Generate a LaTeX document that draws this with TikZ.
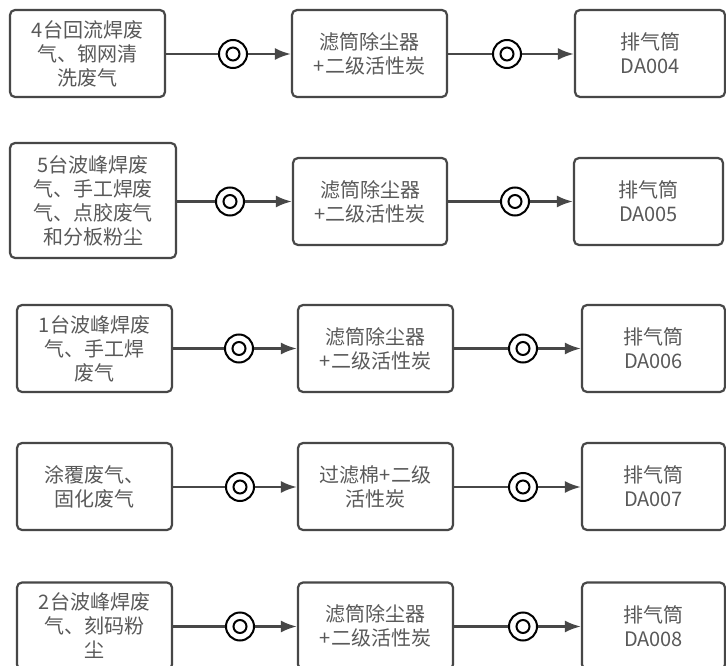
\documentclass[tikz,border=0pt]{standalone}
\usepackage{fontspec}
\setmainfont{Noto Sans CJK SC}
\usetikzlibrary{arrows.meta}
\definecolor{boxline}{HTML}{474747}
\definecolor{boxtext}{HTML}{595959}

\begin{document}
\begin{tikzpicture}[x=1pt,y=-1pt,
    box/.style={draw=boxline,line width=2.2pt,rounded corners=5pt,fill=white,
        align=center,text=boxtext,inner sep=0pt,
        font=\fontsize{20}{24}\selectfont},
    valve/.style={circle,draw=black,line width=2pt,fill=white,minimum size=28pt,
        inner sep=0pt,path picture={\draw[line width=2pt]
        (path picture bounding box.center) circle[radius=6.5pt];}},
    pipe/.style={draw=boxline,line width=2.4pt},
    flow/.style={pipe,-{Latex[length=16pt,width=12pt]}}]
\useasboundingbox (0,0) rectangle (726,666);
\fill[white] (0,0) rectangle (726,666);

% row 1
\node[box,minimum width=155pt,minimum height=87pt] (src1) at (87.5,53.5) {4台回流焊废\\气、钢网清\\洗废气};
\node[box,minimum width=155pt,minimum height=87pt] (trt1) at (369.5,53.5) {滤筒除尘器\\+二级活性炭};
\node[box,minimum width=150pt,minimum height=87pt] (out1) at (650,53.5) {排气筒\\DA004};
\node[valve] (va1) at (233,54) {};
\node[valve] (vb1) at (507,54) {};

% row 2
\node[box,minimum width=166pt,minimum height=115pt] (src2) at (93,200.5) {5台波峰焊废\\气、手工焊废\\气、点胶废气\\和分板粉尘};
\node[box,minimum width=154pt,minimum height=87pt] (trt2) at (370,201.5) {滤筒除尘器\\+二级活性炭};
\node[box,minimum width=149pt,minimum height=87pt] (out2) at (648.5,201.5) {排气筒\\DA005};
\node[valve] (va2) at (230,201.5) {};
\node[valve] (vb2) at (515,201.5) {};

% row 3
\node[box,minimum width=155pt,minimum height=87pt] (src3) at (94.5,348.5) {1台波峰焊废\\气、手工焊\\废气};
\node[box,minimum width=155pt,minimum height=87pt] (trt3) at (375.5,348.5) {滤筒除尘器\\+二级活性炭};
\node[box,minimum width=143pt,minimum height=87pt] (out3) at (653.5,348.5) {排气筒\\DA006};
\node[valve] (va3) at (239,348.5) {};
\node[valve] (vb3) at (523,348.5) {};

% row 4
\node[box,minimum width=155pt,minimum height=87pt] (src4) at (94.5,486.5) {涂覆废气、\\固化废气};
\node[box,minimum width=155pt,minimum height=87pt] (trt4) at (375.5,486.5) {过滤棉+二级\\活性炭};
\node[box,minimum width=143pt,minimum height=87pt] (out4) at (653.5,486.5) {排气筒\\DA007};
\node[valve] (va4) at (240,487) {};
\node[valve] (vb4) at (523,487) {};

% row 5
\node[box,minimum width=155pt,minimum height=87pt] (src5) at (94.5,626) {2台波峰焊废\\气、刻码粉\\尘};
\node[box,minimum width=155pt,minimum height=87pt] (trt5) at (375.5,626) {滤筒除尘器\\+二级活性炭};
\node[box,minimum width=143pt,minimum height=87pt] (out5) at (653.5,626) {排气筒\\DA008};
\node[valve] (va5) at (240,626.5) {};
\node[valve] (vb5) at (523,626.5) {};

\foreach \r in {1,...,5} {
  \draw[pipe] (src\r.east |- va\r) -- (va\r.west);
  \draw[flow] (va\r.east) -- (trt\r.west |- va\r);
  \draw[pipe] (trt\r.east |- vb\r) -- (vb\r.west);
  \draw[flow] (vb\r.east) -- (out\r.west |- vb\r);
}
\end{tikzpicture}
\end{document}
